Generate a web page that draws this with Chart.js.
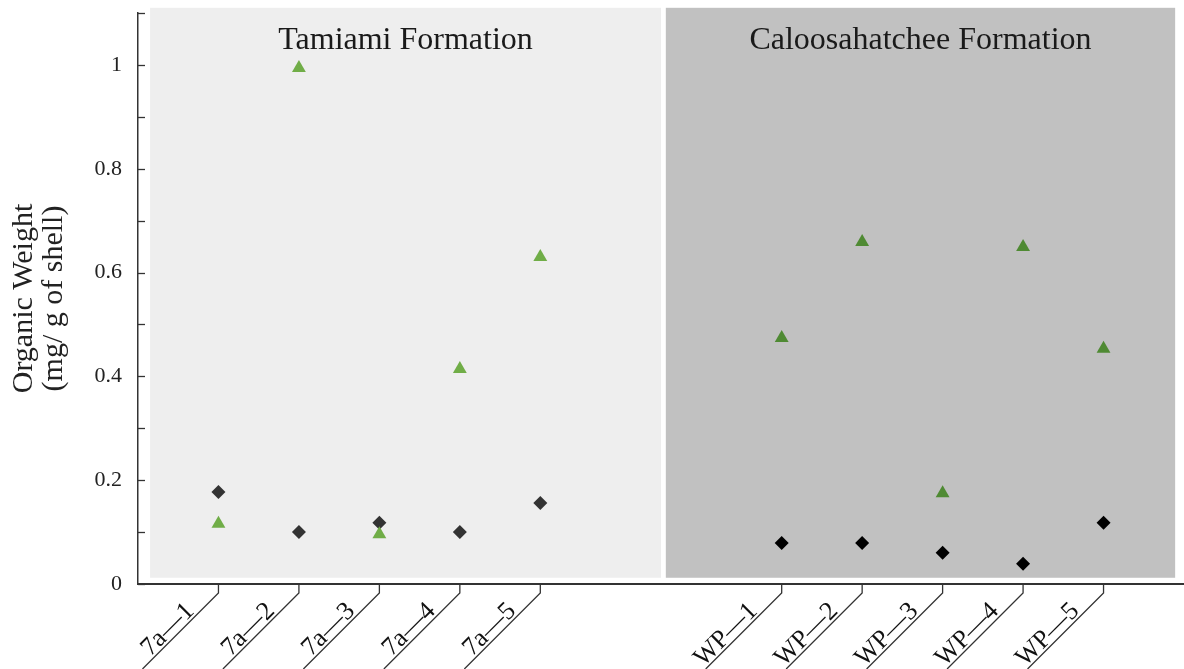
<!DOCTYPE html>
<html>
    <head>
        <script src="https://cdn.jsdelivr.net/npm/chart.js@4.4.0/dist/chart.umd.min.js"></script>
        <style>
            body { margin: 0; background: #fff; }
            #wrap { width: 1184px; height: 669px; }
        </style>
    </head>
    <body>
        <div id="wrap">
            <canvas id="myChart"></canvas>
        </div>

        <script>
            // DATA
            const samples = ['7a\u20141', '7a\u20142', '7a\u20143', '7a\u20144', '7a\u20145',
                             'WP\u20141', 'WP\u20142', 'WP\u20143', 'WP\u20144', 'WP\u20145'];
            const slots = [0, 1, 2, 3, 4, 7, 8, 9, 10, 11];   // two empty slots between formations
            const formation = ['T', 'T', 'T', 'T', 'T', 'C', 'C', 'C', 'C', 'C'];
            const triangleVals = [0.116, 0.994, 0.096, 0.414, 0.630, 0.474, 0.659, 0.175, 0.649, 0.453];
            const diamondVals = [0.177, 0.100, 0.118, 0.100, 0.156, 0.079, 0.079, 0.060, 0.039, 0.118];
            const panelNames = ['Tamiami Formation', 'Caloosahatchee Formation'];

            const serif = '"Liberation Serif", "Times New Roman", serif';

            const triColor = formation.map(f => f === 'T' ? '#70ad47' : '#4f8a33');
            const diaColor = formation.map(f => f === 'T' ? '#333333' : '#000000');

            // background panels behind each formation (x in slot units, y in axis units)
            const panelPlugin = {
                id: 'panels',
                beforeDatasetsDraw(chart) {
                    const {ctx, scales: {x, y}} = chart;
                    const boxes = [
                        {from: -0.85, to: 5.5, fill: '#eeeeee', name: panelNames[0]},
                        {from: 5.56, to: 11.89, fill: '#c1c1c1', name: panelNames[1]}
                    ];
                    ctx.save();
                    boxes.forEach(b => {
                        const x0 = x.getPixelForValue(b.from), x1 = x.getPixelForValue(b.to);
                        const y0 = y.getPixelForValue(1.11), y1 = y.getPixelForValue(0.012);
                        ctx.fillStyle = b.fill;
                        ctx.fillRect(x0, y0, x1 - x0, y1 - y0);
                        ctx.fillStyle = '#1a1a1a';
                        ctx.font = '32px ' + serif;
                        ctx.textAlign = 'center';
                        ctx.textBaseline = 'alphabetic';
                        ctx.fillText(b.name, (x0 + x1) / 2, y0 + 41);
                    });
                    ctx.restore();
                }
            };

            // inward y ticks and slanted x labels
            const axisPlugin = {
                id: 'axisDeco',
                afterDraw(chart) {
                    const {ctx, scales: {x, y}} = chart;
                    ctx.save();
                    ctx.strokeStyle = '#333';
                    ctx.lineWidth = 1.3;
                    y.ticks.forEach(t => {
                        const py = Math.round(y.getPixelForValue(t.value)) + 0.5;
                        ctx.beginPath();
                        ctx.moveTo(y.right, py);
                        ctx.lineTo(y.right + 7, py);
                        ctx.stroke();
                    });
                    const y0 = x.top;
                    samples.forEach((s, i) => {
                        const px = x.getPixelForValue(slots[i]);
                        ctx.beginPath();
                        ctx.moveTo(px, y0);
                        ctx.lineTo(px, y0 + 9);
                        ctx.lineTo(px - 76, y0 + 85);
                        ctx.stroke();
                        ctx.save();
                        ctx.translate(px, y0 + 9);
                        ctx.rotate(-Math.PI / 4);
                        ctx.fillStyle = '#111';
                        ctx.font = '26px ' + serif;
                        ctx.textAlign = 'right';
                        ctx.textBaseline = 'alphabetic';
                        ctx.fillText(s, -30, -3);
                        ctx.restore();
                    });
                    ctx.restore();
                }
            };

            const data = {
                datasets: [{
                    label: 'Triangles',
                    data: slots.map((s, i) => ({x: s, y: triangleVals[i]})),
                    pointStyle: 'triangle',
                    pointRadius: 8,
                    backgroundColor: triColor,
                    borderColor: triColor,
                    borderWidth: 0,
                    showLine: false
                }, {
                    label: 'Diamonds',
                    data: slots.map((s, i) => ({x: s, y: diamondVals[i]})),
                    pointStyle: 'rectRot',
                    pointRadius: 7,
                    backgroundColor: diaColor,
                    borderColor: diaColor,
                    borderWidth: 0,
                    showLine: false
                }]
            };

            const config = {
                type: 'scatter',
                data,
                options: {
                    responsive: true,
                    maintainAspectRatio: false,
                    animation: false,
                    layout: { autoPadding: false, padding: { top: 13, right: 0, left: 0, bottom: 0 } },
                    plugins: {
                        legend: { display: false },
                        tooltip: { enabled: false }
                    },
                    scales: {
                        x: {
                            type: 'linear',
                            min: -1,
                            max: 12,
                            grid: { display: false },
                            border: { display: true, color: '#333', width: 2 },
                            ticks: { display: false },
                            afterFit: s => {
                                s.height = 85;
                                s.paddingLeft = 0;
                                s.paddingRight = 0;
                            }
                        },
                        y: {
                            min: 0,
                            max: 1.1,
                            grid: { drawOnChartArea: false, drawTicks: false },
                            border: { display: true, color: '#333', width: 1.5 },
                            ticks: {
                                stepSize: 0.1,
                                padding: 16,
                                color: '#222',
                                font: { family: serif, size: 22 },
                                callback: v => {
                                    const k = Math.round(v * 10);
                                    return (k % 2 === 0 && k <= 10) ? String(k / 10) : '';
                                }
                            },
                            title: {
                                display: true,
                                text: ['Organic Weight', '(mg/ g of shell)'],
                                color: '#222',
                                font: { family: serif, size: 30, lineHeight: 1.0 },
                                padding: { top: 9, bottom: 0 }
                            },
                            afterFit: s => {
                                s.width = 138;
                                s.paddingTop = 0;
                                s.paddingBottom = 0;
                            }
                        }
                    }
                },
                plugins: [panelPlugin, axisPlugin]
            };

            // RENDER
            const myChart = new Chart(document.getElementById('myChart'), config);
        </script>
    </body>
</html>
